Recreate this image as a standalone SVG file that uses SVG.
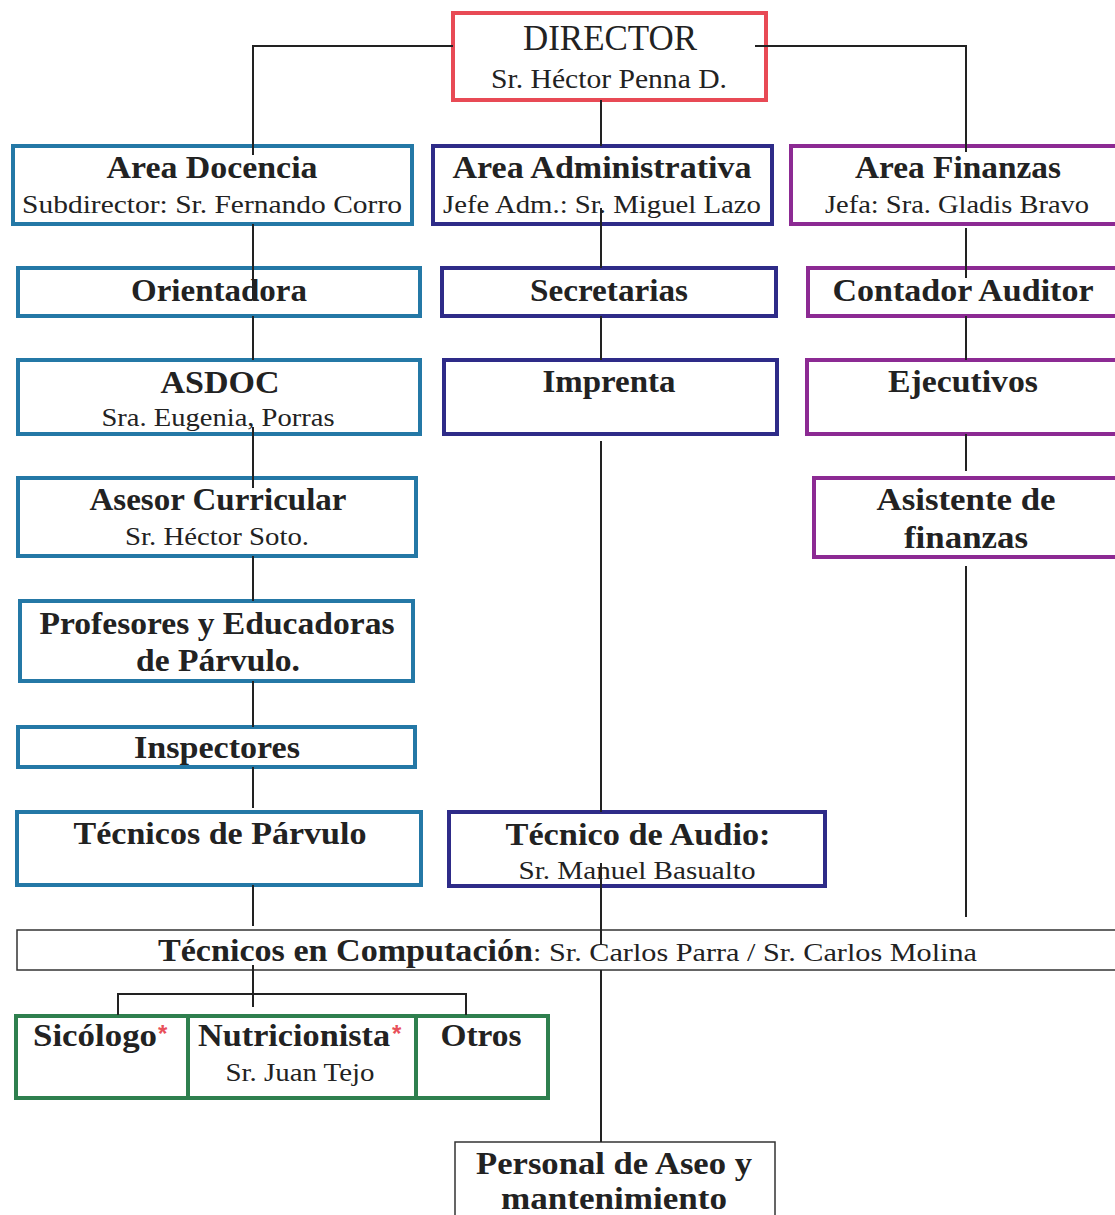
<svg xmlns="http://www.w3.org/2000/svg" width="1115" height="1215" viewBox="0 0 1115 1215">
<style>
  .b { font-family: "Liberation Serif", "DejaVu Serif", serif; font-weight: bold; fill: #222; text-anchor: middle; font-size: 32px; }
  .r { font-family: "Liberation Serif", "DejaVu Serif", serif; fill: #222; text-anchor: middle; font-size: 26px; }
  .box { fill: #fff; stroke-width: 4; }
  .red { stroke: #e84a55; }
  .teal { stroke: #2478a6; }
  .navy { stroke: #2e2b88; }
  .purple { stroke: #8c2a93; }
  .green { stroke: #2e7f4e; }
  .thin { fill: #fff; stroke: #333; stroke-width: 1.5; }
  .star { fill: #e8505a; font-family: "Liberation Sans", sans-serif; font-weight: bold; font-size: 24px; }
  #connectors line { stroke: #222; stroke-width: 2; }
</style>
<rect width="1115" height="1215" fill="#fff"/>

<g id="director">
  <rect class="box red" x="453" y="13" width="313" height="87"/>
  <text class="r" x="610" y="50" style="font-size:35px" textLength="174" lengthAdjust="spacingAndGlyphs">DIRECTOR</text>
  <text class="r" x="609" y="88" style="font-size:27px" textLength="236" lengthAdjust="spacingAndGlyphs">Sr. Héctor Penna D.</text>
</g>

<g id="area-docencia">
  <rect class="box teal" x="13" y="146" width="399" height="78"/>
  <text class="b" x="212" y="178" textLength="211" lengthAdjust="spacingAndGlyphs">Area Docencia</text>
  <text class="r" x="212" y="213" textLength="380" lengthAdjust="spacingAndGlyphs">Subdirector: Sr. Fernando Corro</text>
</g>

<g id="area-administrativa">
  <rect class="box navy" x="433" y="146" width="339" height="78"/>
  <text class="b" x="602" y="178" textLength="299" lengthAdjust="spacingAndGlyphs">Area Administrativa</text>
  <text class="r" x="602" y="213" textLength="318" lengthAdjust="spacingAndGlyphs">Jefe Adm.: Sr. Miguel Lazo</text>
</g>

<g id="area-finanzas">
  <rect class="box purple" x="791" y="146" width="330" height="78"/>
  <text class="b" x="958" y="178" textLength="206" lengthAdjust="spacingAndGlyphs">Area Finanzas</text>
  <text class="r" x="957" y="213" textLength="264" lengthAdjust="spacingAndGlyphs">Jefa: Sra. Gladis Bravo</text>
</g>

<g id="orientadora">
  <rect class="box teal" x="18" y="268" width="402" height="48"/>
  <text class="b" x="219" y="301" textLength="176" lengthAdjust="spacingAndGlyphs">Orientadora</text>
</g>

<g id="secretarias">
  <rect class="box navy" x="442" y="268" width="334" height="48"/>
  <text class="b" x="609" y="301" textLength="158" lengthAdjust="spacingAndGlyphs">Secretarias</text>
</g>

<g id="contador-auditor">
  <rect class="box purple" x="808" y="268" width="312" height="48"/>
  <text class="b" x="963" y="301" textLength="261" lengthAdjust="spacingAndGlyphs">Contador Auditor</text>
</g>

<g id="asdoc">
  <rect class="box teal" x="18" y="360" width="402" height="74"/>
  <text class="b" x="220" y="393" textLength="119" lengthAdjust="spacingAndGlyphs">ASDOC</text>
  <text class="r" x="218" y="426" textLength="233" lengthAdjust="spacingAndGlyphs">Sra. Eugenia, Porras</text>
</g>

<g id="imprenta">
  <rect class="box navy" x="444" y="360" width="333" height="74"/>
  <text class="b" x="609" y="392" textLength="133" lengthAdjust="spacingAndGlyphs">Imprenta</text>
</g>

<g id="ejecutivos">
  <rect class="box purple" x="807" y="360" width="313" height="74"/>
  <text class="b" x="963" y="392" textLength="150" lengthAdjust="spacingAndGlyphs">Ejecutivos</text>
</g>

<g id="asesor-curricular">
  <rect class="box teal" x="18" y="478" width="398" height="78"/>
  <text class="b" x="218" y="510" textLength="257" lengthAdjust="spacingAndGlyphs">Asesor Curricular</text>
  <text class="r" x="217" y="545" textLength="184" lengthAdjust="spacingAndGlyphs">Sr. Héctor Soto.</text>
</g>

<g id="asistente-finanzas">
  <rect class="box purple" x="814" y="478" width="306" height="79"/>
  <text class="b" x="966" y="510" textLength="179" lengthAdjust="spacingAndGlyphs">Asistente de</text>
  <text class="b" x="966" y="548" textLength="124" lengthAdjust="spacingAndGlyphs">finanzas</text>
</g>

<g id="profesores">
  <rect class="box teal" x="20" y="601" width="393" height="80"/>
  <text class="b" x="217" y="634" textLength="355" lengthAdjust="spacingAndGlyphs">Profesores y Educadoras</text>
  <text class="b" x="218" y="671" textLength="164" lengthAdjust="spacingAndGlyphs">de Párvulo.</text>
</g>

<g id="inspectores">
  <rect class="box teal" x="18" y="727" width="397" height="40"/>
  <text class="b" x="217" y="758" textLength="166" lengthAdjust="spacingAndGlyphs">Inspectores</text>
</g>

<g id="tecnicos-parvulo">
  <rect class="box teal" x="17" y="812" width="404" height="73"/>
  <text class="b" x="220" y="844" textLength="293" lengthAdjust="spacingAndGlyphs">Técnicos de Párvulo</text>
</g>

<g id="tecnico-audio">
  <rect class="box navy" x="449" y="812" width="376" height="74"/>
  <text class="b" x="638" y="845" textLength="265" lengthAdjust="spacingAndGlyphs">Técnico de Audio:</text>
  <text class="r" x="637" y="879" textLength="237" lengthAdjust="spacingAndGlyphs">Sr. Manuel Basualto</text>
</g>

<g id="tecnicos-computacion">
  <rect class="thin" x="17" y="930" width="1105" height="40"/>
  <text x="158" y="961" font-family="Liberation Serif, DejaVu Serif, serif" fill="#222"><tspan font-weight="bold" font-size="32" textLength="375" lengthAdjust="spacingAndGlyphs">Técnicos en Computación</tspan><tspan font-size="26" textLength="444" lengthAdjust="spacingAndGlyphs">: Sr. Carlos Parra /  Sr. Carlos Molina</tspan></text>
</g>

<g id="apoyo">
  <rect class="box green" x="16" y="1016" width="532" height="82"/>
  <line class="green" x1="188" y1="1016" x2="188" y2="1098" stroke-width="4"/>
  <line class="green" x1="416" y1="1016" x2="416" y2="1098" stroke-width="4"/>
  <text class="b" x="95" y="1046" textLength="124" lengthAdjust="spacingAndGlyphs">Sicólogo</text>
  <text class="star" x="158" y="1042">*</text>
  <text class="b" x="294" y="1046" textLength="192" lengthAdjust="spacingAndGlyphs">Nutricionista</text>
  <text class="star" x="392" y="1042">*</text>
  <text class="r" x="300" y="1081" textLength="149" lengthAdjust="spacingAndGlyphs">Sr. Juan Tejo</text>
  <text class="b" x="481" y="1046" textLength="81" lengthAdjust="spacingAndGlyphs">Otros</text>
</g>

<g id="personal-aseo">
  <rect class="thin" x="455" y="1142" width="320" height="80"/>
  <text class="b" x="614" y="1174" textLength="276" lengthAdjust="spacingAndGlyphs">Personal de Aseo y</text>
  <text class="b" x="614" y="1209" textLength="226" lengthAdjust="spacingAndGlyphs">mantenimiento</text>
</g>

<g id="connectors">
  <line x1="252" y1="46" x2="453" y2="46"/>
  <line x1="755" y1="46" x2="967" y2="46"/>
  <line x1="253" y1="45" x2="253" y2="155"/>
  <line x1="966" y1="45" x2="966" y2="152"/>
  <line x1="601" y1="100" x2="601" y2="146"/>
  <line x1="253" y1="224" x2="253" y2="300"/>
  <line x1="253" y1="316" x2="253" y2="360"/>
  <line x1="253" y1="427" x2="253" y2="488"/>
  <line x1="253" y1="556" x2="253" y2="601"/>
  <line x1="253" y1="681" x2="253" y2="727"/>
  <line x1="253" y1="767" x2="253" y2="808"/>
  <line x1="253" y1="885" x2="253" y2="926"/>
  <line x1="253" y1="965" x2="253" y2="1007"/>
  <line x1="118" y1="994" x2="466" y2="994"/>
  <line x1="118" y1="993" x2="118" y2="1015"/>
  <line x1="466" y1="993" x2="466" y2="1015"/>
  <line x1="601" y1="208" x2="601" y2="268"/>
  <line x1="601" y1="316" x2="601" y2="360"/>
  <line x1="601" y1="441" x2="601" y2="812"/>
  <line x1="601" y1="863" x2="601" y2="944"/>
  <line x1="601" y1="970" x2="601" y2="1142"/>
  <line x1="966" y1="228" x2="966" y2="278"/>
  <line x1="966" y1="316" x2="966" y2="360"/>
  <line x1="966" y1="434" x2="966" y2="471"/>
  <line x1="966" y1="566" x2="966" y2="917"/>
</g>
</svg>
